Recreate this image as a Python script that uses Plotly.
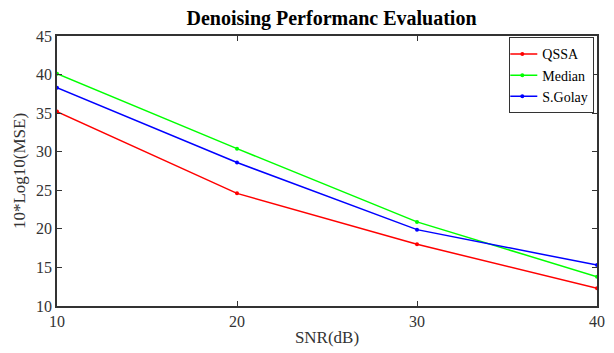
import plotly.graph_objects as go

snr = [10, 20, 30, 40]
qssa = [35.2, 24.6, 18.0, 12.3]
median = [40.1, 30.4, 20.9, 13.8]
sgolay = [38.3, 28.6, 19.9, 15.3]
x_ticks = [10, 20, 30, 40]
y_ticks = [10, 15, 20, 25, 30, 35, 40, 45]

fig = go.Figure()
for name, vals, col in [("QSSA", qssa, "#ff0000"), ("Median", median, "#00ff00"), ("S.Golay", sgolay, "#0000ff")]:
    fig.add_trace(go.Scatter(x=snr, y=vals, name=name, mode="lines+markers",
                             line=dict(color=col, width=1.5),
                             marker=dict(color=col, size=4, symbol="circle")))

font = "Liberation Serif, Times New Roman, serif"
axis_common = dict(showline=True, linecolor="#333333", linewidth=1.5, mirror="ticks",
                   ticks="inside", ticklen=5, tickcolor="#333333", showgrid=False,
                   zeroline=False, automargin=False, ticklabeloverflow="allow",
                   tickfont=dict(family=font, size=16, color="#333333"))
fig.update_layout(
    width=614, height=353,
    margin=dict(l=57, r=17, t=36, b=47),
    paper_bgcolor="white", plot_bgcolor="white",
    title=dict(text="<b>Denoising Performanc Evaluation</b>", x=0.54, xanchor="center",
               y=0.95, yanchor="middle", font=dict(family=font, size=20, color="black")),
    xaxis=dict(range=[10, 40], tickvals=x_ticks, title=dict(text="SNR(dB)", standoff=2,
               font=dict(family=font, size=17, color="#333333")), **axis_common),
    yaxis=dict(range=[10, 45], tickvals=y_ticks, title=dict(text="10*Log10(MSE)", standoff=6,
               font=dict(family=font, size=17, color="#333333")), **axis_common),
    legend=dict(x=0.995, y=0.995, xanchor="right", yanchor="top", bgcolor="white",
                bordercolor="#333333", borderwidth=1, font=dict(family=font, size=14, color="black"),
                tracegroupgap=0, itemwidth=30, indentation=-8),
    showlegend=True,
)
fig.write_html("out.html")
